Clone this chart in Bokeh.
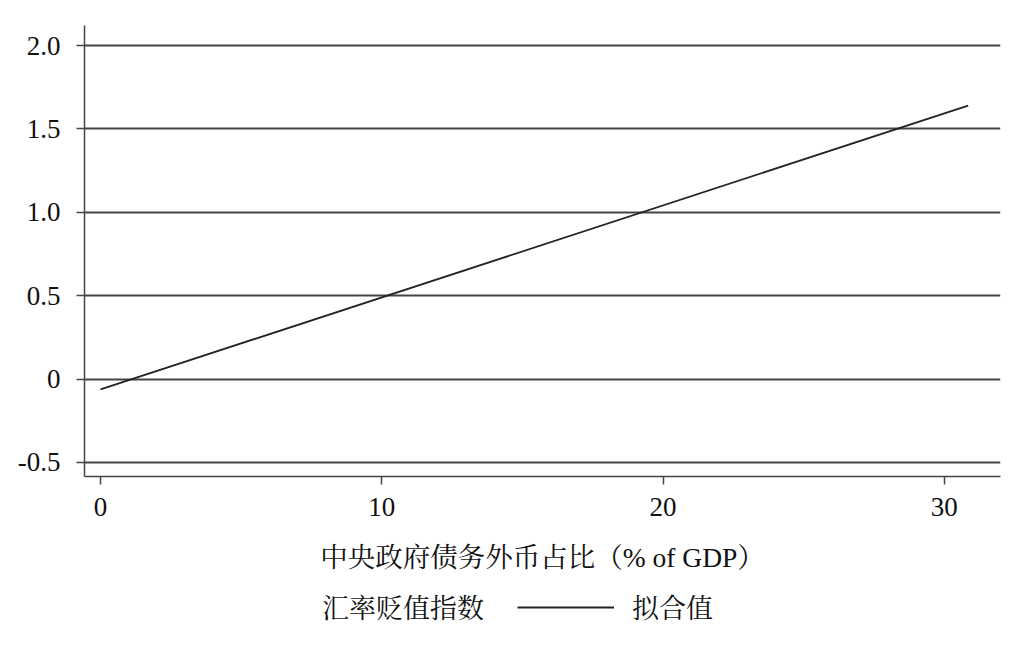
from bokeh.plotting import figure
from bokeh.layouts import column
from bokeh.models import FixedTicker, Range1d, Legend, LegendItem
from bokeh.embed import file_html
from bokeh.resources import INLINE

# data
fit_x = [0.0, 30.85]
fit_y = [-0.062, 1.64]
scatter_x = []
scatter_y = []
x_ticks = [0, 10, 20, 30]
y_ticks = [-0.5, 0, 0.5, 1.0, 1.5, 2.0]
y_tick_labels = {-0.5: "-0.5", 0: "0", 0.5: "0.5", 1.0: "1.0", 1.5: "1.5", 2.0: "2.0"}
x_label = "中央政府债务外币占比（% of GDP）"
series_names = ["汇率贬值指数", "拟合值"]

SERIF = "Liberation Serif, Noto Serif CJK SC, Noto Sans CJK SC"
LINE_COLOR = "#222222"

p = figure(width=1016, height=586, output_backend="svg", toolbar_location=None,
           x_range=Range1d(-0.57, 32.0), y_range=Range1d(-0.584, 2.12),
           min_border_left=84, min_border_right=16, min_border_top=25, min_border_bottom=110)
p.outline_line_color = None
p.background_fill_color = "white"

for ax in (p.xaxis, p.yaxis):
    ax.axis_line_color = "#444444"
    ax.axis_line_width = 1.5
    ax.major_tick_line_color = "#444444"
    ax.major_tick_line_width = 1.5
    ax.major_tick_out = 8
    ax.major_tick_in = 0
    ax.minor_tick_line_color = None
    ax.major_label_text_font = SERIF
    ax.major_label_text_font_size = "27px"
    ax.major_label_text_color = "#111111"

p.xaxis.ticker = FixedTicker(ticks=x_ticks)
p.yaxis.ticker = FixedTicker(ticks=y_ticks)
p.yaxis.major_label_overrides = y_tick_labels
p.yaxis.major_label_orientation = "horizontal"
p.yaxis.major_label_standoff = 16
p.xaxis.major_label_standoff = 13

p.xaxis.axis_label = x_label
p.xaxis.axis_label_text_font = SERIF
p.xaxis.axis_label_text_font_size = "27.5px"
p.xaxis.axis_label_text_font_style = "normal"
p.xaxis.axis_label_text_color = "#111111"
p.xaxis.axis_label_standoff = 23

p.xgrid.grid_line_color = None
p.ygrid.grid_line_color = "#444444"
p.ygrid.grid_line_width = 1.8

p.scatter(x=scatter_x, y=scatter_y, size=6, fill_alpha=0, line_alpha=0)
p.line(x=fit_x, y=fit_y, line_color=LINE_COLOR, line_width=1.8)

# legend strip below the chart (its ranges keep the helper renderers out of view)
q = figure(width=1016, height=52, output_backend="svg", toolbar_location=None,
           x_range=Range1d(1000, 1001), y_range=Range1d(1000, 1001),
           x_axis_location=None, y_axis_location=None,
           min_border_left=0, min_border_right=0, min_border_top=0, min_border_bottom=0)
q.outline_line_color = None
q.grid.visible = False
sc2 = q.scatter(x=scatter_x, y=scatter_y, size=6, fill_alpha=0, line_alpha=0)
ln2 = q.line(x=fit_x, y=fit_y, line_color=LINE_COLOR, line_width=1.8)

legend = Legend(items=[LegendItem(label=series_names[0], renderers=[sc2]),
                       LegendItem(label=series_names[1], renderers=[ln2])],
                orientation="horizontal", location=(123, 12),
                glyph_width=97, glyph_height=30, label_standoff=18, spacing=33,
                padding=0, margin=0, border_line_color=None, background_fill_alpha=0,
                label_text_font=SERIF, label_text_font_size="27px", label_text_color="#111111")
q.add_layout(legend, "center")

layout = column(p, q, spacing=0)
open("out.html", "w").write(file_html(layout, INLINE))
